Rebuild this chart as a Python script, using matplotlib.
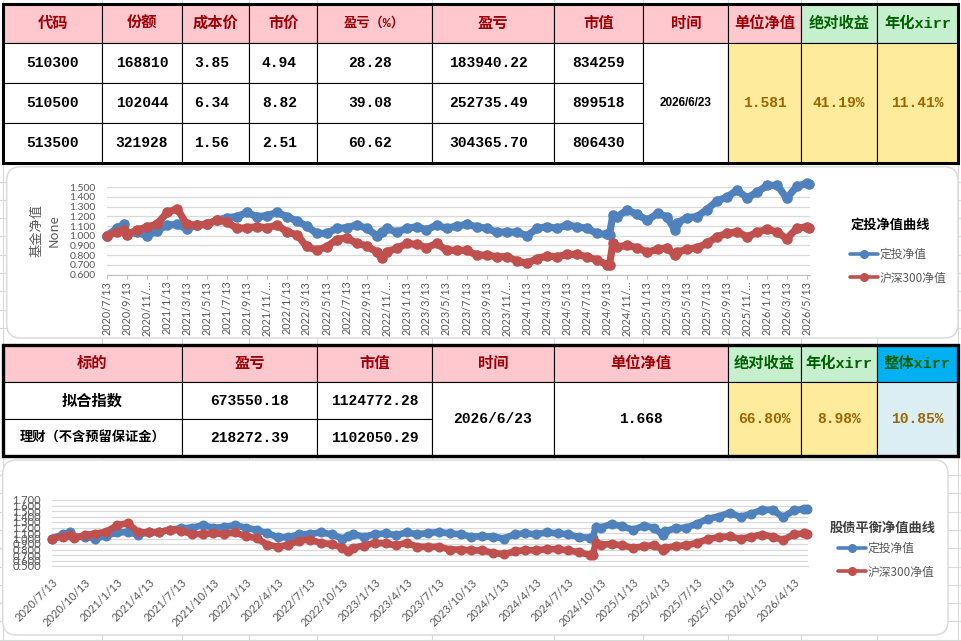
import matplotlib
matplotlib.use('Agg')
import matplotlib.pyplot as plt
from matplotlib.patches import Rectangle, FancyBboxPatch
import numpy as np
import pandas as pd

# ---------------- data ----------------
dates = ['2020-07-13', '2020-08-13', '2020-09-03', '2020-09-13', '2020-10-13', '2020-11-13', '2020-12-13',
         '2021-01-13', '2021-02-13', '2021-03-13', '2021-04-13', '2021-05-13', '2021-06-13', '2021-07-13',
         '2021-08-13', '2021-09-13', '2021-10-13', '2021-11-13', '2021-12-13', '2022-01-13', '2022-02-13',
         '2022-03-13', '2022-04-13', '2022-05-13', '2022-06-13', '2022-07-13', '2022-08-13', '2022-09-13',
         '2022-10-13', '2022-10-28', '2022-11-13', '2022-12-13', '2023-01-13', '2023-02-13', '2023-03-13',
         '2023-04-13', '2023-05-13', '2023-06-13', '2023-07-13', '2023-08-13', '2023-09-13', '2023-10-13',
         '2023-11-13', '2023-12-13', '2024-01-13', '2024-02-13', '2024-03-13', '2024-04-13', '2024-05-13',
         '2024-06-13', '2024-07-13', '2024-08-13', '2024-09-13', '2024-09-20', '2024-09-30', '2024-10-13',
         '2024-11-13', '2024-12-13', '2025-01-13', '2025-02-13', '2025-03-13', '2025-04-07', '2025-04-13',
         '2025-05-13', '2025-06-13', '2025-07-13', '2025-08-13', '2025-09-13', '2025-10-13', '2025-11-13',
         '2025-12-13', '2026-01-13', '2026-02-13', '2026-03-13', '2026-04-13', '2026-05-13', '2026-05-20']

nav_dingtou = [1.000, 1.076, 1.117, 1.020, 1.035, 1.000, 1.050,
               1.110, 1.117, 1.070, 1.110, 1.117, 1.160, 1.186,
               1.197, 1.240, 1.197, 1.207, 1.240, 1.197, 1.150,
               1.100, 1.024, 1.024, 1.076, 1.083, 1.110, 1.076,
               1.000, 1.040, 1.076, 1.035, 1.076, 1.093, 1.060,
               1.110, 1.076, 1.100, 1.117, 1.093, 1.076, 1.035,
               1.040, 1.035, 1.000, 1.076, 1.093, 1.076, 1.110,
               1.093, 1.076, 1.024, 1.014, 1.010, 1.214, 1.197,
               1.265, 1.220, 1.160, 1.230, 1.197, 1.060, 1.130,
               1.186, 1.197, 1.270, 1.360, 1.400, 1.470, 1.390,
               1.450, 1.520, 1.520, 1.386, 1.510, 1.540, 1.530]

nav_hs300 = [1.000, 1.035, 1.060, 1.010, 1.060, 1.090, 1.120,
             1.240, 1.280, 1.117, 1.110, 1.117, 1.160, 1.145,
             1.076, 1.083, 1.093, 1.083, 1.110, 1.040, 1.007,
             0.890, 0.850, 0.886, 0.960, 0.980, 0.920, 0.897,
             0.830, 0.770, 0.835, 0.870, 0.920, 0.910, 0.876,
             0.920, 0.850, 0.850, 0.850, 0.800, 0.800, 0.783,
             0.783, 0.740, 0.714, 0.765, 0.790, 0.783, 0.807,
             0.807, 0.783, 0.750, 0.700, 0.700, 0.920, 0.886,
             0.900, 0.876, 0.830, 0.860, 0.876, 0.800, 0.830,
             0.860, 0.876, 0.920, 0.990, 1.024, 1.040, 0.990,
             1.035, 1.070, 1.035, 0.970, 1.076, 1.093, 1.085]

series_names = ['定投净值', '沪深300净值']

top_headers = ['代码', '份额', '成本价', '市价', '盈亏（%）', '盈亏', '市值', '时间', '单位净值', '绝对收益', '年化xirr']
codes = ['510300', '510500', '513500']
shares = ['168810', '102044', '321928']
cost_price = ['3.85', '6.34', '1.56']
market_price = ['4.94', '8.82', '2.51']
pnl_pct = ['28.28', '39.08', '60.62']
pnl = ['183940.22', '252735.49', '304365.70']
market_value = ['834259', '899518', '806430']
summary_date = '2026/6/23'
unit_nav = '1.581'
abs_return = '41.19%'
annual_xirr = '11.41%'

bottom_headers = ['标的', '盈亏', '市值', '时间', '单位净值', '绝对收益', '年化xirr', '整体xirr']
targets = ['拟合指数', '理财（不含预留保证金）']
target_pnl = ['673550.18', '218272.39']
target_value = ['1124772.28', '1102050.29']
fit_date = '2026/6/23'
fit_nav = '1.668'
fit_abs = '66.80%'
fit_xirr = '8.98%'
total_xirr = '10.85%'

chart1_title = '定投净值曲线'
chart2_title = '股债平衡净值曲线'
chart1_ylabel = '基金净值\nNone'

# ---------------- styles ----------------
PINK, RED_T = '#FFC7CE', '#9C0006'
GREEN, GREEN_T = '#C6EFCE', '#006100'
YELLOW, YELLOW_T = '#FFEB9C', '#9C6500'
BLUE_H, LBLUE = '#00B0F0', '#DAEEF3'
C_BLUE, C_RED = '#4F81BD', '#C0504D'
MONO = ['Liberation Mono', 'Noto Sans CJK SC']
CJK = ['Noto Sans CJK SC', 'DejaVu Sans']
TICKF = ['Lato', 'Noto Sans CJK SC']

W, H = 962, 641
fig = plt.figure(figsize=(W / 100, H / 100), dpi=100)
bg = fig.add_axes([0, 0, 1, 1], zorder=0)
bg.set_xlim(0, W)
bg.set_ylim(H, 0)
bg.axis('off')


def axes_px(x0, y0, x1, y1):
    a = fig.add_axes([x0 / W, 1 - y1 / H, (x1 - x0) / W, (y1 - y0) / H], zorder=2)
    a.patch.set_alpha(0)
    return a


# sheet gridlines
col_edges = [3.3, 102.3, 181.7, 249.3, 317.3, 431.7, 554, 643.3, 728.3, 800.7, 876.7, 958.3]
for x in col_edges:
    bg.plot([x, x], [0, H], color='#D9D9D9', lw=0.8, zorder=0.5)
for y in list(np.arange(181.5, 345, 18.3)) + list(np.arange(475, H, 18.3)):
    bg.plot([0, W], [y, y], color='#D9D9D9', lw=0.8, zorder=0.5)

# chart boxes
for (x0, y0, x1, y1) in [(6.7, 166.7, 958, 338), (2.7, 460, 948, 635)]:
    bg.add_patch(FancyBboxPatch((x0, y0), x1 - x0, y1 - y0,
                                boxstyle='round,pad=0,rounding_size=14',
                                facecolor='white', edgecolor='#D9D9D9', lw=1, zorder=1))


def cell(x0, y0, x1, y1, fc, text=None, color='black', size=10.5, family=MONO, weight='bold', dx=0):
    bg.add_patch(Rectangle((x0, y0), x1 - x0, y1 - y0, facecolor=fc, edgecolor='black', lw=0.8, zorder=3))
    if text is not None:
        bg.text((x0 + x1) / 2 + dx, (y0 + y1) / 2, text, ha='center', va='center', fontsize=size,
                color=color, fontweight=weight, family=family, zorder=5)


# ---------------- top table ----------------
tc = col_edges
ty = [4.3, 43.3, 83.3, 123.3, 162.7]
for i, h in enumerate(top_headers):
    fc, tcol = (GREEN, GREEN_T) if i >= 9 else (PINK, RED_T)
    cell(tc[i], ty[0], tc[i + 1], ty[1], fc, h, tcol, size=9.5 if i == 4 else 11)
cols = [codes, shares, cost_price, market_price, pnl_pct, pnl, market_value]
for r in range(3):
    for c, colv in enumerate(cols):
        txt = colv[r]
        cell(tc[c], ty[r + 1], tc[c + 1], ty[r + 2], 'white', txt, 'black',
             dx=-4 if '.' in txt else 0)
cell(tc[7], ty[1], tc[8], ty[4], 'white', summary_date, 'black', size=8.5,
     family=['Liberation Sans', 'DejaVu Sans'])
cell(tc[8], ty[1], tc[9], ty[4], YELLOW, unit_nav, YELLOW_T)
cell(tc[9], ty[1], tc[10], ty[4], YELLOW, abs_return, YELLOW_T)
cell(tc[10], ty[1], tc[11], ty[4], YELLOW, annual_xirr, YELLOW_T)
bg.add_patch(Rectangle((tc[0], ty[0]), tc[-1] - tc[0], ty[-1] - ty[0], fill=False,
                       edgecolor='black', lw=2.2, zorder=6))

# ---------------- bottom table ----------------
bc = [3.3, 181.7, 317.3, 431.7, 554, 728.3, 800.7, 876.7, 958.3]
by = [345, 382.3, 419.3, 455.7]
for i, h in enumerate(bottom_headers):
    if i == 7:
        fc, tcol = BLUE_H, GREEN_T
    elif i >= 5:
        fc, tcol = GREEN, GREEN_T
    else:
        fc, tcol = PINK, RED_T
    cell(bc[i], by[0], bc[i + 1], by[1], fc, h, tcol, size=11)
for r in range(2):
    cell(bc[0], by[r + 1], bc[1], by[r + 2], 'white', targets[r], 'black',
         size=11 if r == 0 else 9.5, family=CJK)
    cell(bc[1], by[r + 1], bc[2], by[r + 2], 'white', target_pnl[r], 'black')
    cell(bc[2], by[r + 1], bc[3], by[r + 2], 'white', target_value[r], 'black')
cell(bc[3], by[1], bc[4], by[3], 'white', fit_date, 'black')
cell(bc[4], by[1], bc[5], by[3], 'white', fit_nav, 'black')
cell(bc[5], by[1], bc[6], by[3], YELLOW, fit_abs, YELLOW_T)
cell(bc[6], by[1], bc[7], by[3], YELLOW, fit_xirr, YELLOW_T)
cell(bc[7], by[1], bc[8], by[3], LBLUE, total_xirr, YELLOW_T)
bg.add_patch(Rectangle((bc[0], by[0]), bc[-1] - bc[0], by[-1] - by[0], fill=False,
                       edgecolor='black', lw=2.4, zorder=6))

# ---------------- charts ----------------
d = pd.to_datetime(dates)
xmin, xmax = pd.Timestamp('2020-07-13'), pd.Timestamp('2026-05-23')


def draw_series(ax, lw, ms):
    ax.plot(d, nav_dingtou, color=C_BLUE, lw=lw, marker='o', ms=ms, label=series_names[0],
            solid_joinstyle='round', solid_capstyle='round', clip_on=False, zorder=3)
    ax.plot(d, nav_hs300, color=C_RED, lw=lw, marker='o', ms=ms, label=series_names[1],
            solid_joinstyle='round', solid_capstyle='round', clip_on=False, zorder=4)


def style_axis(ax, ymin, ymax, ysize):
    ax.set_xlim(xmin, xmax)
    ax.set_ylim(ymin, ymax)
    ax.set_yticks(np.round(np.arange(ymin, ymax + 0.001, 0.1), 1))
    ax.set_yticklabels(['%.3f' % v for v in np.round(np.arange(ymin, ymax + 0.001, 0.1), 1)],
                       fontsize=ysize, color='#595959', family=TICKF)
    ax.grid(axis='y', color='#D9D9D9', lw=0.9)
    ax.set_axisbelow(True)
    for s in ['left', 'top', 'right']:
        ax.spines[s].set_visible(False)
    ax.spines['bottom'].set_color('#BFBFBF')
    ax.tick_params(axis='y', length=0, pad=8)


# chart 1
ax1 = axes_px(106.7, 187.3, 810, 274.5)
draw_series(ax1, 5.2, 6.6)
style_axis(ax1, 0.6, 1.5, 7.5)
t1 = pd.date_range('2020-07-13', '2026-05-13', freq=pd.DateOffset(months=2))
lab1 = [f'{t.year}/{t.month}/{t.day}' if t.month < 10 else f'{t.year}/{t.month}/…' for t in t1]
ax1.set_xticks(t1)
ax1.set_xticklabels(lab1, rotation=90, fontsize=7.8, color='#595959', family=TICKF, va='top', ha='center')
ax1.tick_params(axis='x', length=3, color='#BFBFBF', pad=1.5)
ax1.set_ylabel(chart1_ylabel, fontsize=9.5, color='#595959', family=CJK, linespacing=1.4)
ax1.yaxis.set_label_coords(-0.066, 0.5)
leg1 = ax1.legend(loc='center left', bbox_to_anchor=(850 / W, 1 - 266.3 / H), bbox_transform=fig.transFigure,
                  frameon=False, prop={'family': CJK, 'size': 8.5}, labelcolor='#595959',
                  handlelength=2.4, handletextpad=0.1, labelspacing=0.9, borderpad=0, borderaxespad=0)
for hnd in leg1.legend_handles:
    hnd.set_linewidth(2.6)
    hnd.set_markersize(5.5)
bg.text(851, 225, chart1_title, fontsize=9.5, fontweight='bold', family=CJK, color='black',
        ha='left', va='center', zorder=5)

# chart 2
ax2 = axes_px(52, 500, 808, 566)
draw_series(ax2, 4.8, 6.2)
style_axis(ax2, 0.5, 1.7, 8)
ax2.spines['bottom'].set_color('#D9D9D9')
t2 = pd.date_range('2020-07-13', '2026-04-13', freq=pd.DateOffset(months=3))
lab2 = [f'{t.year}/{t.month}/{t.day}' for t in t2]
ax2.set_xticks(t2)
ax2.set_xticklabels(lab2, rotation=45, fontsize=8, color='#595959', family=TICKF,
                    ha='right', va='top', rotation_mode='anchor')
ax2.tick_params(axis='x', length=0, pad=8)
leg2 = ax2.legend(loc='center left', bbox_to_anchor=(838 / W, 1 - 560.3 / H), bbox_transform=fig.transFigure,
                  frameon=False, prop={'family': CJK, 'size': 8.5}, labelcolor='#595959',
                  handlelength=2.4, handletextpad=0.1, labelspacing=0.9, borderpad=0, borderaxespad=0)
for hnd in leg2.legend_handles:
    hnd.set_linewidth(2.6)
    hnd.set_markersize(5.5)
bg.text(830, 528, chart2_title, fontsize=9.5, fontweight='bold', family=CJK, color='#404040',
        ha='left', va='center', zorder=5)

fig.savefig('out.png', dpi=100)
